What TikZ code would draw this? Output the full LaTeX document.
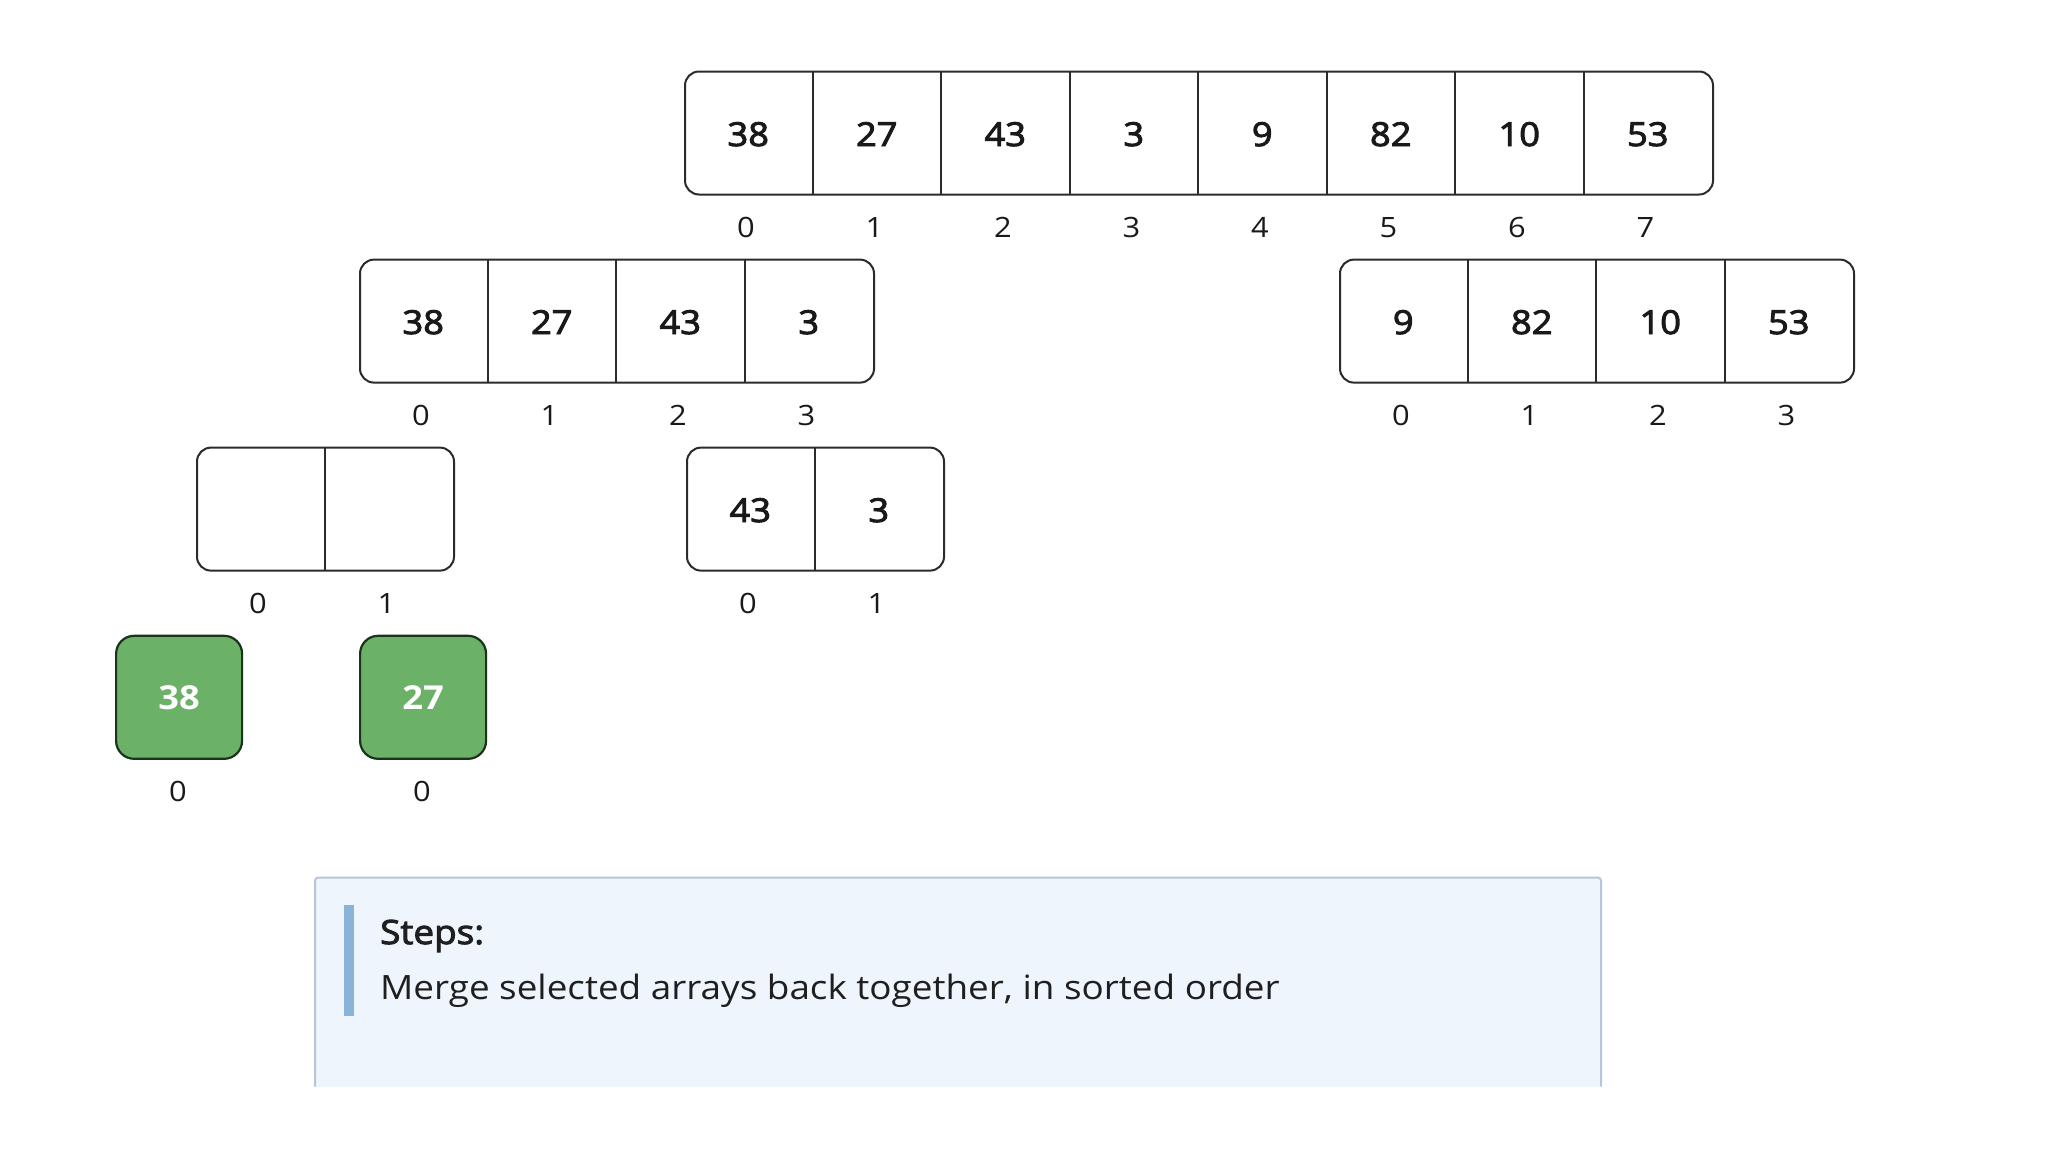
\documentclass[tikz,border=0pt]{standalone}
\usepackage{fontspec}
\setmainfont[FakeStretch=1.1]{Open Sans}
\newfontfamily\semib[FakeStretch=1.1,FakeBold=2.8]{Open Sans}
\definecolor{cellline}{HTML}{2B2B2B}
\definecolor{gfill}{HTML}{6CB168}
\definecolor{gline}{HTML}{1C331B}
\definecolor{stepfill}{HTML}{EEF5FC}
\definecolor{stepline}{HTML}{B4C6D8}
\definecolor{stepbar}{HTML}{8AB3DA}
\begin{document}
\begin{tikzpicture}[x=1pt,y=-1pt,
  arr/.style={draw=cellline, line width=2pt, rounded corners=14pt, inner sep=0pt, anchor=north west, minimum height=123pt},
  divider/.style={draw=cellline, line width=2pt},
  val/.style={font=\fontsize{33}{38}\semib, text=black!90, inner sep=0pt, text height=24pt, text depth=0pt},
  idx/.style={font=\fontsize{28}{32}\selectfont, text=black!90, inner sep=0pt, text height=20pt, text depth=0pt},
  gbox/.style={draw=gline, fill=gfill, line width=2.2pt, rounded corners=18pt, inner sep=0pt, anchor=north west, minimum width=126pt, minimum height=123pt},
  gval/.style={font=\fontsize{33}{38}\selectfont\bfseries, text=white, inner sep=0pt, text height=24pt, text depth=0pt},
  steptext/.style={font=\fontsize{33.5}{38}\selectfont, text=black!88, inner sep=0pt, anchor=west, text height=24pt, text depth=0pt}]
\useasboundingbox (0,0) rectangle (2048,1152);
\fill[white] (0,0) rectangle (2048,1152);
% top array
\def\cw{128.5}
\node[arr, minimum width=1028pt] (top) at (684,70.5) {};
\foreach \i in {1,...,7} \draw[divider] (684+\cw*\i,70.5) -- ++(0,123);
\foreach \v [count=\j from 0] in {38,27,43,3,9,82,10,53} {
  \node[val] (t\j) at (684+\cw*\j+64.25,134) {\v};
  \node[idx] (ti\j) at (684+\cw*\j+62,227) {\j};
}
% row 2 left
\node[arr, minimum width=514pt] (l2) at (359,258.6) {};
\foreach \i in {1,...,3} \draw[divider] (359+\cw*\i,258.6) -- ++(0,123);
\foreach \v [count=\j from 0] in {38,27,43,3} {
  \node[val] (l\j) at (359+\cw*\j+64.25,322) {\v};
  \node[idx] (li\j) at (359+\cw*\j+62,415) {\j};
}
% row 2 right
\node[arr, minimum width=514pt] (r2) at (1339,258.6) {};
\foreach \i in {1,...,3} \draw[divider] (1339+\cw*\i,258.6) -- ++(0,123);
\foreach \v [count=\j from 0] in {9,82,10,53} {
  \node[val] (r\j) at (1339+\cw*\j+64.25,322) {\v};
  \node[idx] (ri\j) at (1339+\cw*\j+62,415) {\j};
}
% row 3 left (empty)
\node[arr, minimum width=257pt] (ll3) at (196,446.6) {};
\draw[divider] (196+\cw,446.6) -- ++(0,123);
\foreach \j in {0,1} \node[idx] (lli\j) at (196+\cw*\j+62,603) {\j};
% row 3 mid
\node[arr, minimum width=257pt] (lm3) at (686,446.6) {};
\draw[divider] (686+\cw,446.6) -- ++(0,123);
\foreach \v [count=\j from 0] in {43,3} {
  \node[val] (m\j) at (686+\cw*\j+64.25,510) {\v};
  \node[idx] (mi\j) at (686+\cw*\j+62,603) {\j};
}
% green singletons
\node[gbox] (g1) at (115,634.7) {};
\node[gval] at (g1.center) {38};
\node[idx] (g1i) at (178,791) {0};
\node[gbox] (g2) at (359,634.7) {};
\node[gval] at (g2.center) {27};
\node[idx] (g2i) at (422,791) {0};
% steps box
\fill[stepfill] (315,877.6) rectangle (1601,1086.6);
\draw[stepline, line width=2pt, rounded corners=3pt] (315,1086.6) -- (315,877.6) -- (1601,877.6) -- (1601,1086.6);
\fill[stepbar] (343.5,905) rectangle (354,1016);
\node[steptext] (st) at (380,932) {\semib Steps:};
\node[steptext] (sm) at (380,987) {Merge selected arrays back together, in sorted order};
\end{tikzpicture}
\end{document}
